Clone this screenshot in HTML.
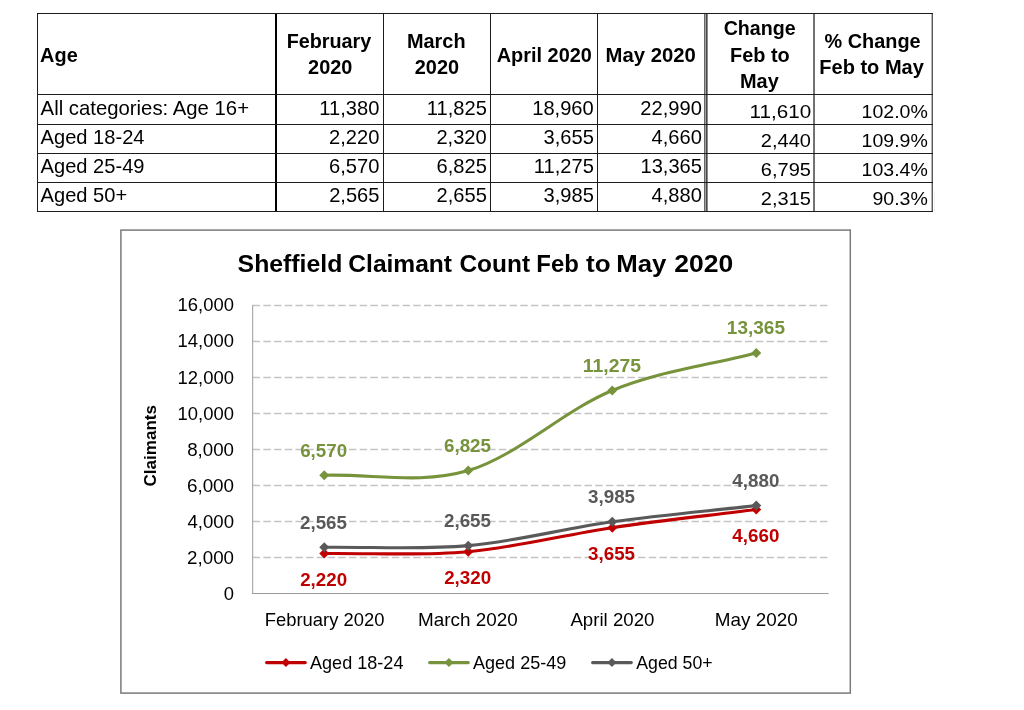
<!DOCTYPE html>
<html lang="en"><head><meta charset="utf-8"><title>Sheffield Claimant Count Feb to May 2020</title>
<style>html,body{margin:0;padding:0;background:#fff}svg{display:block}text{font-family:'Liberation Sans', sans-serif;white-space:pre}</style>
</head><body>
<svg width="1024" height="710" viewBox="0 0 1024 710">
<rect width="1024" height="710" fill="#fff"/>
<g shape-rendering="crispEdges">
<rect x="37" y="13" width="1" height="199" fill="#1c1c1c"/>
<rect x="275" y="13" width="2" height="199" fill="#000"/>
<rect x="383" y="13" width="1" height="199" fill="#1c1c1c"/>
<rect x="490" y="13" width="1" height="199" fill="#1c1c1c"/>
<rect x="597" y="13" width="1" height="199" fill="#1c1c1c"/>
<rect x="704" y="13" width="1" height="199" fill="#666"/>
<rect x="705" y="14" width="1" height="197" fill="#a4a4a4"/>
<rect x="706" y="13" width="1" height="199" fill="#484848"/>
<rect x="707" y="14" width="1" height="197" fill="#8c8c8c"/>
<rect x="813" y="14" width="1" height="197" fill="#757575"/>
<rect x="814" y="14" width="1" height="197" fill="#707070"/>
<rect x="931" y="14" width="1" height="197" fill="#b4b4b4"/>
<rect x="932" y="13" width="1" height="199" fill="#5c5c5c"/>
<rect x="37" y="13" width="896" height="1" fill="#1c1c1c"/>
<rect x="37" y="94" width="896" height="1" fill="#1c1c1c"/>
<rect x="37" y="124" width="896" height="1" fill="#1c1c1c"/>
<rect x="37" y="153" width="896" height="1" fill="#1c1c1c"/>
<rect x="37" y="182" width="896" height="1" fill="#1c1c1c"/>
<rect x="37" y="211" width="896" height="1" fill="#1c1c1c"/>
<rect x="934" y="191" width="1" height="22" fill="#f0f0f0"/>
</g>
<rect x="120.9" y="230.1" width="729.4" height="463.0" fill="#fff" stroke="#7a7a7a" stroke-width="1.5"/>
<line x1="252.6" x2="828" y1="557.4" y2="557.4" stroke="#C4C4C4" stroke-width="1.45" stroke-dasharray="7.5 3.206"/>
<line x1="252.6" x2="828" y1="521.4" y2="521.4" stroke="#C4C4C4" stroke-width="1.45" stroke-dasharray="7.5 3.206"/>
<line x1="252.6" x2="828" y1="485.4" y2="485.4" stroke="#C4C4C4" stroke-width="1.45" stroke-dasharray="7.5 3.206"/>
<line x1="252.6" x2="828" y1="449.4" y2="449.4" stroke="#C4C4C4" stroke-width="1.45" stroke-dasharray="7.5 3.206"/>
<line x1="252.6" x2="828" y1="413.4" y2="413.4" stroke="#C4C4C4" stroke-width="1.45" stroke-dasharray="7.5 3.206"/>
<line x1="252.6" x2="828" y1="377.4" y2="377.4" stroke="#C4C4C4" stroke-width="1.45" stroke-dasharray="7.5 3.206"/>
<line x1="252.6" x2="828" y1="341.4" y2="341.4" stroke="#C4C4C4" stroke-width="1.45" stroke-dasharray="7.5 3.206"/>
<line x1="252.6" x2="828" y1="305.4" y2="305.4" stroke="#C4C4C4" stroke-width="1.45" stroke-dasharray="7.5 3.206"/>
<line x1="252.7" x2="252.7" y1="305" y2="594" stroke="#9a9a9a" stroke-width="1"/>
<line x1="252" x2="828.6" y1="593.5" y2="593.5" stroke="#9a9a9a" stroke-width="1"/>
<path d="M324.25 553.49 C372.25 552.89 420.25 556.00 468.25 551.69 C516.25 547.39 564.25 534.68 612.25 527.66 C660.25 520.64 708.25 515.60 756.25 509.57" fill="none" stroke="#C00000" stroke-width="3.1" stroke-linecap="round"/>
<path d="M319.25 553.49L324.25 548.49L329.25 553.49L324.25 558.49Z" fill="#C00000"/>
<path d="M463.25 551.69L468.25 546.69L473.25 551.69L468.25 556.69Z" fill="#C00000"/>
<path d="M607.25 527.66L612.25 522.66L617.25 527.66L612.25 532.66Z" fill="#C00000"/>
<path d="M751.25 509.57L756.25 504.57L761.25 509.57L756.25 514.57Z" fill="#C00000"/>
<path d="M324.25 475.19 C372.25 473.66 420.25 484.71 468.25 470.60 C516.25 456.48 564.25 410.12 612.25 390.50 C660.25 370.88 708.25 365.42 756.25 352.88" fill="none" stroke="#77933C" stroke-width="3.1" stroke-linecap="round"/>
<path d="M319.25 475.19L324.25 470.19L329.25 475.19L324.25 480.19Z" fill="#77933C"/>
<path d="M463.25 470.60L468.25 465.60L473.25 470.60L468.25 475.60Z" fill="#77933C"/>
<path d="M607.25 390.50L612.25 385.50L617.25 390.50L612.25 395.50Z" fill="#77933C"/>
<path d="M751.25 352.88L756.25 347.88L761.25 352.88L756.25 357.88Z" fill="#77933C"/>
<path d="M324.25 547.28 C372.25 546.74 420.25 549.92 468.25 545.66 C516.25 541.40 564.25 528.40 612.25 521.72 C660.25 515.04 708.25 510.98 756.25 505.61" fill="none" stroke="#595959" stroke-width="3.1" stroke-linecap="round"/>
<path d="M319.25 547.28L324.25 542.28L329.25 547.28L324.25 552.28Z" fill="#595959"/>
<path d="M463.25 545.66L468.25 540.66L473.25 545.66L468.25 550.66Z" fill="#595959"/>
<path d="M607.25 521.72L612.25 516.72L617.25 521.72L612.25 526.72Z" fill="#595959"/>
<path d="M751.25 505.61L756.25 500.61L761.25 505.61L756.25 510.61Z" fill="#595959"/>
<line x1="266.6" x2="305.3" y1="662.6" y2="662.6" stroke="#C00000" stroke-width="3.1" stroke-linecap="round"/>
<path d="M281.45 662.60L285.95 658.10L290.45 662.60L285.95 667.10Z" fill="#C00000"/>
<line x1="429.6" x2="468.3" y1="662.6" y2="662.6" stroke="#77933C" stroke-width="3.1" stroke-linecap="round"/>
<path d="M444.45 662.60L448.95 658.10L453.45 662.60L448.95 667.10Z" fill="#77933C"/>
<line x1="592.6" x2="631.3" y1="662.6" y2="662.6" stroke="#595959" stroke-width="3.1" stroke-linecap="round"/>
<path d="M607.45 662.60L611.95 658.10L616.45 662.60L611.95 667.10Z" fill="#595959"/>
<text x="40.11" y="61.90" font-size="20.4" font-weight="bold" textLength="37.60" lengthAdjust="spacingAndGlyphs">Age</text>
<text x="286.64" y="47.50" font-size="20.4" font-weight="bold" textLength="84.71" lengthAdjust="spacingAndGlyphs">February</text>
<text x="308.08" y="74.40" font-size="20.4" font-weight="bold" textLength="44.28" lengthAdjust="spacingAndGlyphs">2020</text>
<text x="406.97" y="47.50" font-size="20.4" font-weight="bold" textLength="58.62" lengthAdjust="spacingAndGlyphs">March</text>
<text x="414.78" y="74.40" font-size="20.4" font-weight="bold" textLength="44.28" lengthAdjust="spacingAndGlyphs">2020</text>
<text x="496.75" y="61.90" font-size="20.4" font-weight="bold" textLength="95.14" lengthAdjust="spacingAndGlyphs">April 2020</text>
<text x="605.61" y="61.90" font-size="20.4" font-weight="bold" textLength="90.13" lengthAdjust="spacingAndGlyphs">May 2020</text>
<text x="723.63" y="34.75" font-size="20.4" font-weight="bold" textLength="71.99" lengthAdjust="spacingAndGlyphs">Change</text>
<text x="729.99" y="61.50" font-size="20.4" font-weight="bold" textLength="59.70" lengthAdjust="spacingAndGlyphs">Feb to</text>
<text x="740.03" y="87.60" font-size="20.4" font-weight="bold" textLength="38.72" lengthAdjust="spacingAndGlyphs">May</text>
<text x="824.51" y="47.50" font-size="20.4" font-weight="bold" textLength="96.12" lengthAdjust="spacingAndGlyphs">% Change</text>
<text x="819.32" y="74.40" font-size="20.4" font-weight="bold" textLength="104.52" lengthAdjust="spacingAndGlyphs">Feb to May</text>
<text x="40.60" y="115.20" font-size="20.6" textLength="208.41" lengthAdjust="spacingAndGlyphs">All categories: Age 16+</text>
<text x="319.36" y="115.20" font-size="20.6" textLength="59.98" lengthAdjust="spacingAndGlyphs">11,380</text>
<text x="426.86" y="115.20" font-size="20.6" textLength="59.98" lengthAdjust="spacingAndGlyphs">11,825</text>
<text x="532.27" y="115.20" font-size="20.6" textLength="61.47" lengthAdjust="spacingAndGlyphs">18,960</text>
<text x="640.37" y="115.20" font-size="20.6" textLength="61.47" lengthAdjust="spacingAndGlyphs">22,990</text>
<text x="749.59" y="117.75" font-size="19.1" textLength="61.59" lengthAdjust="spacingAndGlyphs">11,610</text>
<text x="861.57" y="117.75" font-size="19.1" textLength="66.23" lengthAdjust="spacingAndGlyphs">102.0%</text>
<text x="40.60" y="143.90" font-size="20.6" textLength="103.92" lengthAdjust="spacingAndGlyphs">Aged 18-24</text>
<text x="329.05" y="143.90" font-size="20.6" textLength="50.29" lengthAdjust="spacingAndGlyphs">2,220</text>
<text x="436.45" y="143.90" font-size="20.6" textLength="50.29" lengthAdjust="spacingAndGlyphs">2,320</text>
<text x="543.54" y="143.90" font-size="20.6" textLength="50.29" lengthAdjust="spacingAndGlyphs">3,655</text>
<text x="651.55" y="143.90" font-size="20.6" textLength="50.29" lengthAdjust="spacingAndGlyphs">4,660</text>
<text x="760.86" y="146.60" font-size="19.1" textLength="50.00" lengthAdjust="spacingAndGlyphs">2,440</text>
<text x="861.57" y="146.60" font-size="19.1" textLength="66.23" lengthAdjust="spacingAndGlyphs">109.9%</text>
<text x="40.60" y="173.20" font-size="20.6" textLength="103.92" lengthAdjust="spacingAndGlyphs">Aged 25-49</text>
<text x="329.05" y="173.20" font-size="20.6" textLength="50.29" lengthAdjust="spacingAndGlyphs">6,570</text>
<text x="436.54" y="173.20" font-size="20.6" textLength="50.29" lengthAdjust="spacingAndGlyphs">6,825</text>
<text x="533.86" y="173.20" font-size="20.6" textLength="59.98" lengthAdjust="spacingAndGlyphs">11,275</text>
<text x="640.47" y="173.20" font-size="20.6" textLength="61.47" lengthAdjust="spacingAndGlyphs">13,365</text>
<text x="760.86" y="175.70" font-size="19.1" textLength="50.00" lengthAdjust="spacingAndGlyphs">6,795</text>
<text x="861.57" y="175.70" font-size="19.1" textLength="66.23" lengthAdjust="spacingAndGlyphs">103.4%</text>
<text x="40.60" y="202.10" font-size="20.6" textLength="86.61" lengthAdjust="spacingAndGlyphs">Aged 50+</text>
<text x="329.14" y="202.10" font-size="20.6" textLength="50.29" lengthAdjust="spacingAndGlyphs">2,565</text>
<text x="436.54" y="202.10" font-size="20.6" textLength="50.29" lengthAdjust="spacingAndGlyphs">2,655</text>
<text x="543.54" y="202.10" font-size="20.6" textLength="50.29" lengthAdjust="spacingAndGlyphs">3,985</text>
<text x="651.55" y="202.10" font-size="20.6" textLength="50.29" lengthAdjust="spacingAndGlyphs">4,880</text>
<text x="760.86" y="204.50" font-size="19.1" textLength="50.00" lengthAdjust="spacingAndGlyphs">2,315</text>
<text x="872.43" y="204.50" font-size="19.1" textLength="55.37" lengthAdjust="spacingAndGlyphs">90.3%</text>
<text x="223.68" y="599.90" font-size="17.8" textLength="10.24" lengthAdjust="spacingAndGlyphs">0</text>
<text x="187.06" y="563.90" font-size="17.8" textLength="46.98" lengthAdjust="spacingAndGlyphs">2,000</text>
<text x="187.48" y="527.90" font-size="17.8" textLength="46.54" lengthAdjust="spacingAndGlyphs">4,000</text>
<text x="186.95" y="491.90" font-size="17.8" textLength="47.09" lengthAdjust="spacingAndGlyphs">6,000</text>
<text x="187.16" y="455.90" font-size="17.8" textLength="46.87" lengthAdjust="spacingAndGlyphs">8,000</text>
<text x="177.55" y="419.90" font-size="17.8" textLength="56.37" lengthAdjust="spacingAndGlyphs">10,000</text>
<text x="177.55" y="383.90" font-size="17.8" textLength="56.37" lengthAdjust="spacingAndGlyphs">12,000</text>
<text x="177.55" y="346.90" font-size="17.8" textLength="56.37" lengthAdjust="spacingAndGlyphs">14,000</text>
<text x="177.55" y="310.90" font-size="17.8" textLength="56.37" lengthAdjust="spacingAndGlyphs">16,000</text>
<text x="264.80" y="625.75" font-size="17.7" textLength="119.62" lengthAdjust="spacingAndGlyphs">February 2020</text>
<text x="418.01" y="625.75" font-size="17.7" textLength="99.68" lengthAdjust="spacingAndGlyphs">March 2020</text>
<text x="570.40" y="625.75" font-size="17.7" textLength="84.03" lengthAdjust="spacingAndGlyphs">April 2020</text>
<text x="714.76" y="625.75" font-size="17.7" textLength="82.93" lengthAdjust="spacingAndGlyphs">May 2020</text>
<text x="310.00" y="669.00" font-size="17.7" textLength="93.45" lengthAdjust="spacingAndGlyphs">Aged 18-24</text>
<text x="473.00" y="669.00" font-size="17.7" textLength="93.26" lengthAdjust="spacingAndGlyphs">Aged 25-49</text>
<text x="636.25" y="669.00" font-size="17.7" textLength="76.34" lengthAdjust="spacingAndGlyphs">Aged 50+</text>
<text transform="translate(155.80 486.52) rotate(-90)" x="0" y="0" font-size="16.6" font-weight="bold" textLength="81.57" lengthAdjust="spacingAndGlyphs">Claimants</text>
<text x="300.18" y="456.64" font-size="17.8" font-weight="bold" fill="#77933C" textLength="46.95" lengthAdjust="spacingAndGlyphs">6,570</text>
<text x="444.02" y="452.05" font-size="17.8" font-weight="bold" fill="#77933C" textLength="46.95" lengthAdjust="spacingAndGlyphs">6,825</text>
<text x="582.85" y="371.95" font-size="17.8" font-weight="bold" fill="#77933C" textLength="58.13" lengthAdjust="spacingAndGlyphs">11,275</text>
<text x="726.88" y="334.33" font-size="17.8" font-weight="bold" fill="#77933C" textLength="58.10" lengthAdjust="spacingAndGlyphs">13,365</text>
<text x="300.18" y="586.04" font-size="17.8" font-weight="bold" fill="#C00000" textLength="46.95" lengthAdjust="spacingAndGlyphs">2,220</text>
<text x="444.18" y="584.24" font-size="17.8" font-weight="bold" fill="#C00000" textLength="46.95" lengthAdjust="spacingAndGlyphs">2,320</text>
<text x="588.12" y="560.21" font-size="17.8" font-weight="bold" fill="#C00000" textLength="46.95" lengthAdjust="spacingAndGlyphs">3,655</text>
<text x="732.39" y="542.12" font-size="17.8" font-weight="bold" fill="#C00000" textLength="46.95" lengthAdjust="spacingAndGlyphs">4,660</text>
<text x="300.02" y="528.73" font-size="17.8" font-weight="bold" fill="#595959" textLength="46.95" lengthAdjust="spacingAndGlyphs">2,565</text>
<text x="444.02" y="527.11" font-size="17.8" font-weight="bold" fill="#595959" textLength="46.95" lengthAdjust="spacingAndGlyphs">2,655</text>
<text x="588.12" y="503.17" font-size="17.8" font-weight="bold" fill="#595959" textLength="46.95" lengthAdjust="spacingAndGlyphs">3,985</text>
<text x="732.39" y="487.06" font-size="17.8" font-weight="bold" fill="#595959" textLength="46.95" lengthAdjust="spacingAndGlyphs">4,880</text>
<text y="271.5" font-size="24" font-weight="bold"><tspan x="237.58" textLength="104.78" lengthAdjust="spacingAndGlyphs">Sheffield</tspan> <tspan x="348.33" textLength="103.72" lengthAdjust="spacingAndGlyphs">Claimant</tspan> <tspan x="459.48" textLength="70.56" lengthAdjust="spacingAndGlyphs">Count</tspan> <tspan x="536.30" textLength="42.55" lengthAdjust="spacingAndGlyphs">Feb</tspan> <tspan x="585.98" textLength="24.55" lengthAdjust="spacingAndGlyphs">to</tspan> <tspan x="616.18" textLength="50.17" lengthAdjust="spacingAndGlyphs">May</tspan> <tspan x="674.32" textLength="58.93" lengthAdjust="spacingAndGlyphs">2020</tspan></text>
</svg>
</body></html>
